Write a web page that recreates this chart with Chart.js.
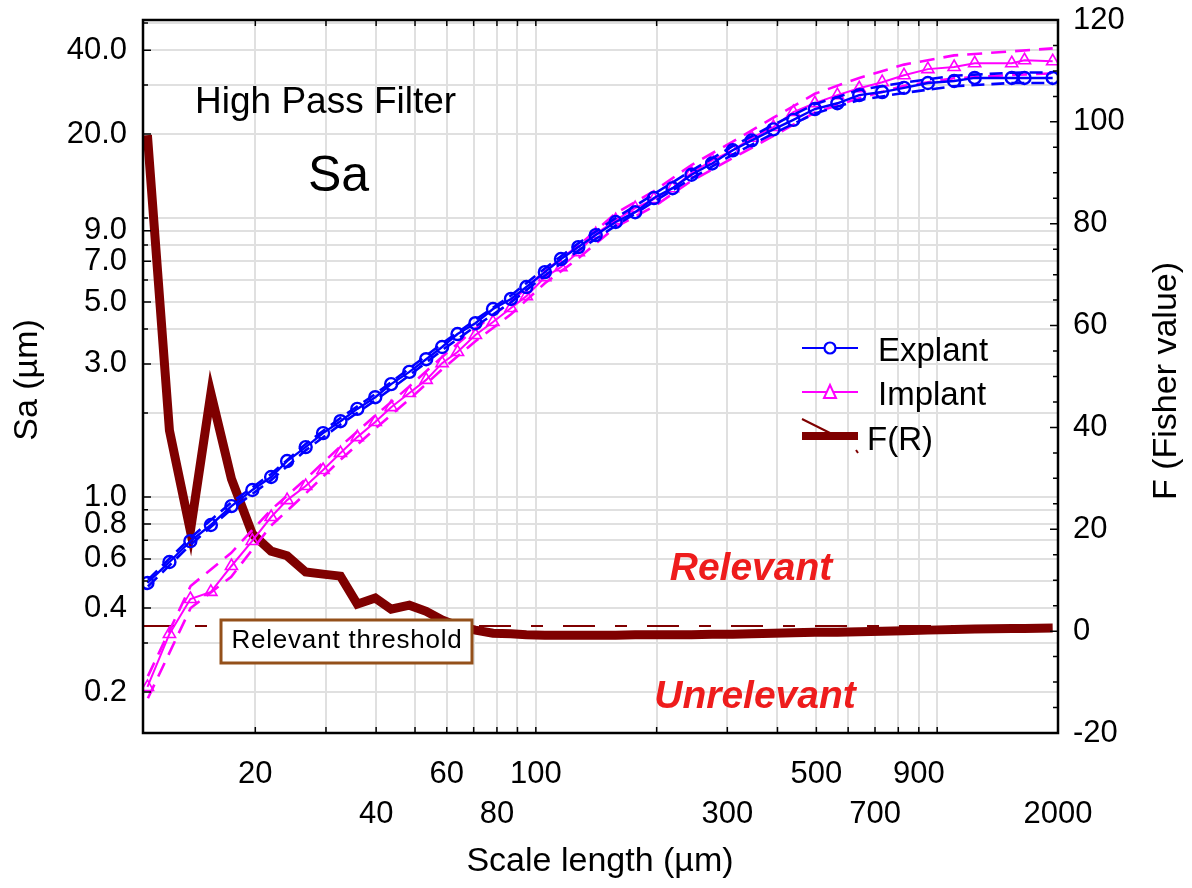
<!DOCTYPE html>
<html>
<head>
<meta charset="utf-8">
<script src="https://cdn.jsdelivr.net/npm/chart.js@4.4.1/dist/chart.umd.min.js"></script>
<style>
html,body{margin:0;padding:0;background:#ffffff;}
canvas{display:block;}
</style>
</head>
<body>
<canvas id="c" width="1192" height="888"></canvas>
<script>
// ---------- data ----------
const scaleLength = [10.77, 12.22, 13.78, 15.5, 17.44, 19.66, 21.9, 24.0, 26.7, 29.5,
  32.6, 35.9, 39.8, 43.6, 48.4, 53.3, 58.4, 63.8, 70.7, 78.2,
  86.7, 94.7, 105.3, 115.5, 127.6, 141.0, 158.1, 176.8, 196.9, 219.1,
  244.2, 274.9, 309.4, 345.0, 390.8, 438.2, 495.6, 564.1, 639.3, 729.3,
  826.7, 948, 1102, 1240, 1534, 1650, 1940];

const explantSa = [0.492, 0.585, 0.695, 0.794, 0.928, 1.06, 1.18, 1.346, 1.51, 1.695,
  1.87, 2.07, 2.28, 2.54, 2.81, 3.12, 3.45, 3.84, 4.20, 4.72,
  5.13, 5.66, 6.40, 7.13, 7.87, 8.69, 9.68, 10.5, 11.8, 12.8,
  14.3, 15.7, 17.5, 19.0, 20.8, 22.5, 24.6, 25.8, 27.6, 28.3,
  29.3, 30.5, 31.0, 31.8, 31.8, 31.8, 31.8];

const implantSa = [0.2085, 0.323, 0.431, 0.457, 0.566, 0.696, 0.848, 0.975, 1.095, 1.25,
  1.438, 1.64, 1.857, 2.10, 2.36, 2.63, 3.02, 3.31, 3.81, 4.24,
  4.76, 5.25, 6.14, 6.67, 7.55, 8.76, 9.83, 10.86, 11.7, 12.8,
  14.5, 16.1, 17.5, 19.4, 21.2, 24.0, 25.8, 27.6, 29.2, 30.7,
  32.5, 34.2, 34.8, 35.9, 35.9, 36.8, 36.5];

const fisherF = [97.4, 39.4, 19.7, 46.7, 29.9, 19.1, 15.7, 14.8, 11.6, 11.2,
  10.8, 5.3, 6.5, 4.3, 5.1, 3.9, 2.2, 1.0, 0.2, -0.4,
  -0.5, -0.7, -0.8, -0.8, -0.8, -0.8, -0.8, -0.7, -0.7, -0.7,
  -0.7, -0.6, -0.6, -0.5, -0.4, -0.3, -0.2, -0.2, -0.1, 0.0,
  0.1, 0.2, 0.3, 0.4, 0.5, 0.5, 0.6];

// confidence bands (dashed lines)
const bandScale = [10.8, 13.8, 17.4, 21.9, 26.7, 32.6, 39.8, 48.4, 58.4, 70.7,
  86.7, 105.3, 127.6, 158.1, 196.9, 244.2, 309.4, 390.8, 495.6, 639.3,
  826.7, 1102, 1534, 1940];
const explantUpper = [0.505, 0.715, 0.955, 1.21, 1.55, 1.92, 2.34, 2.89, 3.55, 4.32,
  5.28, 6.6, 8.12, 10.0, 12.2, 14.8, 18.1, 21.6, 25.6, 28.8,
  30.6, 32.4, 33.2, 33.3];
const explantLower = [0.478, 0.675, 0.902, 1.15, 1.47, 1.82, 2.22, 2.73, 3.36, 4.09,
  4.99, 6.22, 7.65, 9.40, 11.45, 13.85, 16.9, 20.1, 23.7, 26.5,
  28.1, 29.7, 30.5, 30.5];
const implantUpper = [0.228, 0.48, 0.63, 0.90, 1.16, 1.52, 1.96, 2.49, 3.18, 4.01,
  5.01, 6.46, 7.96, 10.4, 12.5, 15.5, 18.8, 22.9, 27.9, 31.8,
  35.5, 38.3, 39.6, 40.6];
const implantLower = [0.19, 0.40, 0.517, 0.79, 1.03, 1.36, 1.76, 2.24, 2.87, 3.62,
  4.52, 5.84, 7.17, 9.3, 11.0, 13.6, 16.4, 19.7, 23.9, 26.9,
  29.8, 31.7, 32.6, 33.0];

const thresholdF = 1.0;
const xRange = [10.5, 2000];

// tick labels
const xGridValues = [20, 30, 40, 50, 60, 70, 80, 90, 100, 200, 300, 400, 500, 600, 700, 800, 900, 1000, 2000];
const xLabelsRow1 = [20, 60, 100, 500, 900];
const xLabelsRow2 = [40, 80, 300, 700, 2000];
const yGridValues = [0.2, 0.3, 0.4, 0.5, 0.6, 0.7, 0.8, 0.9, 1, 2, 3, 4, 5, 6, 7, 8, 9, 10, 20, 30, 40, 50];
const yLabelValues = [0.2, 0.4, 0.6, 0.8, 1.0, 3.0, 5.0, 7.0, 9.0, 20.0, 40.0];
const yRange = [0.1426, 51.3];
const fRange = [-20, 120];

const FONT = "'Liberation Sans', Arial, Helvetica, sans-serif";
const near = (a, b) => Math.abs(a - b) <= Math.abs(b) * 1e-6;

const pts = (xs, ys) => xs.map((x, i) => ({x: x, y: ys[i]}));

const BLUE = '#0000ff', MAG = '#ff00ff', DRED = '#7f0000';

// ---------- plugins ----------
const frameTicks = {
  id: 'frameTicks',
  afterDraw(chart) {
    const {ctx, chartArea: a, scales} = chart;
    ctx.save();
    ctx.strokeStyle = '#000';
    ctx.lineWidth = 1.5;
    ctx.beginPath();
    yGridValues.forEach(v => {
      const y = scales.y.getPixelForValue(v);
      const len = yLabelValues.some(l => near(v, l)) ? 8 : 5;
      ctx.moveTo(a.left, y); ctx.lineTo(a.left + len, y);
    });
    for (let f = -20; f <= 120; f += 5) {
      const y = scales.y2.getPixelForValue(f);
      const len = f % 20 === 0 ? 8 : 5;
      ctx.moveTo(a.right, y); ctx.lineTo(a.right - len, y);
    }
    xGridValues.forEach(v => {
      const x = scales.x.getPixelForValue(v);
      ctx.moveTo(x, a.bottom); ctx.lineTo(x, a.bottom - 6);
      ctx.moveTo(x, a.top); ctx.lineTo(x, a.top + 6);
    });
    ctx.stroke();
    ctx.lineWidth = 2.5;
    ctx.strokeRect(a.left, a.top, a.right - a.left, a.bottom - a.top);
    ctx.restore();
  }
};

const annotations = {
  id: 'annotations',
  afterDatasetsDraw(chart) {
    const {ctx} = chart;
    ctx.save();
    // titles inside plot
    ctx.fillStyle = '#000';
    ctx.textAlign = 'left';
    ctx.textBaseline = 'alphabetic';
    ctx.font = '37px ' + FONT;
    ctx.fillText('High Pass Filter', 195, 113);
    ctx.font = '50px ' + FONT;
    ctx.fillText('Sa', 308, 191);

    // Relevant / Unrelevant
    ctx.fillStyle = '#ee1c1c';
    ctx.textAlign = 'center';
    ctx.textBaseline = 'middle';
    ctx.font = 'italic bold 39px ' + FONT;
    ctx.fillText('Relevant', 751, 569);
    ctx.fillText('Unrelevant', 755, 697);

    // threshold label box
    ctx.fillStyle = '#ffffff';
    ctx.fillRect(221, 620, 251, 43);
    ctx.strokeStyle = '#94501a';
    ctx.lineWidth = 3;
    ctx.strokeRect(221, 620, 251, 43);
    ctx.fillStyle = '#000';
    ctx.font = '26px ' + FONT;
    ctx.textAlign = 'center';
    try { ctx.letterSpacing = '0.8px'; } catch (e) {}
    ctx.fillText('Relevant threshold', 347, 641);
    try { ctx.letterSpacing = '0px'; } catch (e) {}

    // legend
    ctx.textAlign = 'left';
    ctx.textBaseline = 'alphabetic';
    ctx.font = '33px ' + FONT;
    // Explant
    ctx.strokeStyle = BLUE; ctx.lineWidth = 2.2;
    ctx.beginPath(); ctx.moveTo(802, 348); ctx.lineTo(858, 348); ctx.stroke();
    ctx.beginPath(); ctx.arc(830, 348, 5.5, 0, Math.PI * 2); ctx.fillStyle = '#fff'; ctx.fill(); ctx.stroke();
    ctx.fillStyle = '#000';
    ctx.fillText('Explant', 878, 361);
    // Implant
    ctx.strokeStyle = MAG; ctx.lineWidth = 2;
    ctx.beginPath(); ctx.moveTo(802, 392); ctx.lineTo(858, 392); ctx.stroke();
    ctx.beginPath(); ctx.moveTo(830, 385); ctx.lineTo(836, 398); ctx.lineTo(824, 398); ctx.closePath();
    ctx.fillStyle = '#fff'; ctx.fill(); ctx.stroke();
    ctx.fillStyle = '#000';
    ctx.fillText('Implant', 878, 405);
    // F(R)
    ctx.strokeStyle = DRED; ctx.lineWidth = 8;
    ctx.beginPath(); ctx.moveTo(802, 436); ctx.lineTo(858, 436); ctx.stroke();
    ctx.lineWidth = 2;
    ctx.beginPath(); ctx.moveTo(802, 419); ctx.lineTo(830, 433); ctx.stroke();
    ctx.beginPath(); ctx.moveTo(856, 450); ctx.lineTo(858, 453); ctx.stroke();
    ctx.fillStyle = '#000';
    ctx.fillText('F(R)', 867, 450);

    ctx.restore();
  },
  afterDraw(chart) {
    const {ctx} = chart;
    ctx.save();
    ctx.fillStyle = '#000';
    ctx.textAlign = 'center';
    ctx.textBaseline = 'middle';
    ctx.font = '34px ' + FONT;
    ctx.fillText('Scale length (µm)', 600, 862);
    ctx.translate(28, 380);
    ctx.rotate(-Math.PI / 2);
    ctx.fillText('Sa (µm)', 0, 0);
    ctx.restore();
    ctx.save();
    ctx.fillStyle = '#000';
    ctx.textAlign = 'center';
    ctx.textBaseline = 'middle';
    ctx.font = '34px ' + FONT;
    ctx.translate(1167, 381);
    ctx.rotate(-Math.PI / 2);
    ctx.fillText('F (Fisher value)', 0, 0);
    ctx.restore();
  }
};

// ---------- chart ----------
new Chart(document.getElementById('c'), {
  type: 'line',
  data: {
    datasets: [
      {
        label: 'Explant', data: pts(scaleLength, explantSa), yAxisID: 'y',
        borderColor: BLUE, borderWidth: 2.4, pointStyle: 'circle', pointRadius: 6,
        pointBorderWidth: 2.4, pointBorderColor: BLUE, pointBackgroundColor: 'rgba(0,0,0,0)', fill: false
      },
      {
        label: 'Explant upper', data: pts(bandScale, explantUpper), yAxisID: 'y',
        borderColor: BLUE, borderWidth: 2.6, borderDash: [13, 7], pointRadius: 0, fill: false
      },
      {
        label: 'Explant lower', data: pts(bandScale, explantLower), yAxisID: 'y',
        borderColor: BLUE, borderWidth: 2.6, borderDash: [13, 7], pointRadius: 0, fill: false
      },
      {
        label: 'Implant', data: pts(scaleLength, implantSa), yAxisID: 'y',
        borderColor: MAG, borderWidth: 2, pointStyle: 'triangle', pointRadius: 7,
        pointBorderWidth: 1.6, pointBorderColor: MAG, pointBackgroundColor: 'rgba(0,0,0,0)', fill: false
      },
      {
        label: 'Implant upper', data: pts(bandScale, implantUpper), yAxisID: 'y',
        borderColor: MAG, borderWidth: 2.6, borderDash: [15, 9], pointRadius: 0, fill: false
      },
      {
        label: 'Implant lower', data: pts(bandScale, implantLower), yAxisID: 'y',
        borderColor: MAG, borderWidth: 2.6, borderDash: [15, 9], pointRadius: 0, fill: false
      },
      {
        label: 'F(R)', data: pts(scaleLength, fisherF), yAxisID: 'y2',
        borderColor: DRED, borderWidth: 9, pointRadius: 0, fill: false,
        borderJoinStyle: 'miter', borderCapStyle: 'butt'
      },
      {
        label: 'Relevant threshold', data: [{x: xRange[0], y: thresholdF}, {x: xRange[1], y: thresholdF}], yAxisID: 'y2',
        borderColor: DRED, borderWidth: 2, borderDash: [32, 20, 12, 20], pointRadius: 0, fill: false
      }
    ]
  },
  options: {
    responsive: false,
    animation: false,
    layout: {padding: {top: 20, left: 0, right: 0, bottom: 0}},
    plugins: {legend: {display: false}, tooltip: {enabled: false}, title: {display: false}},
    elements: {line: {tension: 0}},
    scales: {
      x: {
        type: 'logarithmic', position: 'bottom', min: xRange[0], max: xRange[1],
        afterFit(s) { s.height = 155; s.paddingLeft = 0; s.paddingRight = 0; },
        afterBuildTicks(s) { s.ticks = xGridValues.map(v => ({value: v})); },
        grid: {color: '#e0e0e0', lineWidth: 2, drawTicks: false},
        border: {display: false},
        ticks: {
          autoSkip: false, maxRotation: 0, minRotation: 0, padding: 21,
          color: '#000', font: {family: FONT, size: 31, lineHeight: 1.3},
          callback(v) {
            if (xLabelsRow1.some(l => near(v, l))) return [String(v), ''];
            if (xLabelsRow2.some(l => near(v, l))) return ['', String(v)];
            return '';
          }
        }
      },
      y: {
        type: 'logarithmic', position: 'left', min: yRange[0], max: yRange[1],
        afterFit(s) { s.width = 143; s.paddingTop = 0; s.paddingBottom = 0; },
        afterBuildTicks(s) { s.ticks = yGridValues.map(v => ({value: v})); },
        grid: {color: '#e0e0e0', lineWidth: 2, drawTicks: false},
        border: {display: false},
        ticks: {
          autoSkip: false, padding: 16, color: '#000', font: {family: FONT, size: 31},
          callback(v) {
            const l = yLabelValues.find(l => near(v, l));
            return l === undefined ? '' : l.toFixed(1);
          }
        }
      },
      y2: {
        type: 'linear', position: 'right', min: fRange[0], max: fRange[1],
        afterFit(s) { s.width = 134; s.paddingTop = 0; s.paddingBottom = 0; },
        grid: {display: false, drawTicks: false},
        border: {display: false},
        ticks: {stepSize: 20, padding: 15, color: '#000', font: {family: FONT, size: 31}}
      }
    }
  },
  plugins: [annotations, frameTicks]
});
</script>
</body>
</html>
